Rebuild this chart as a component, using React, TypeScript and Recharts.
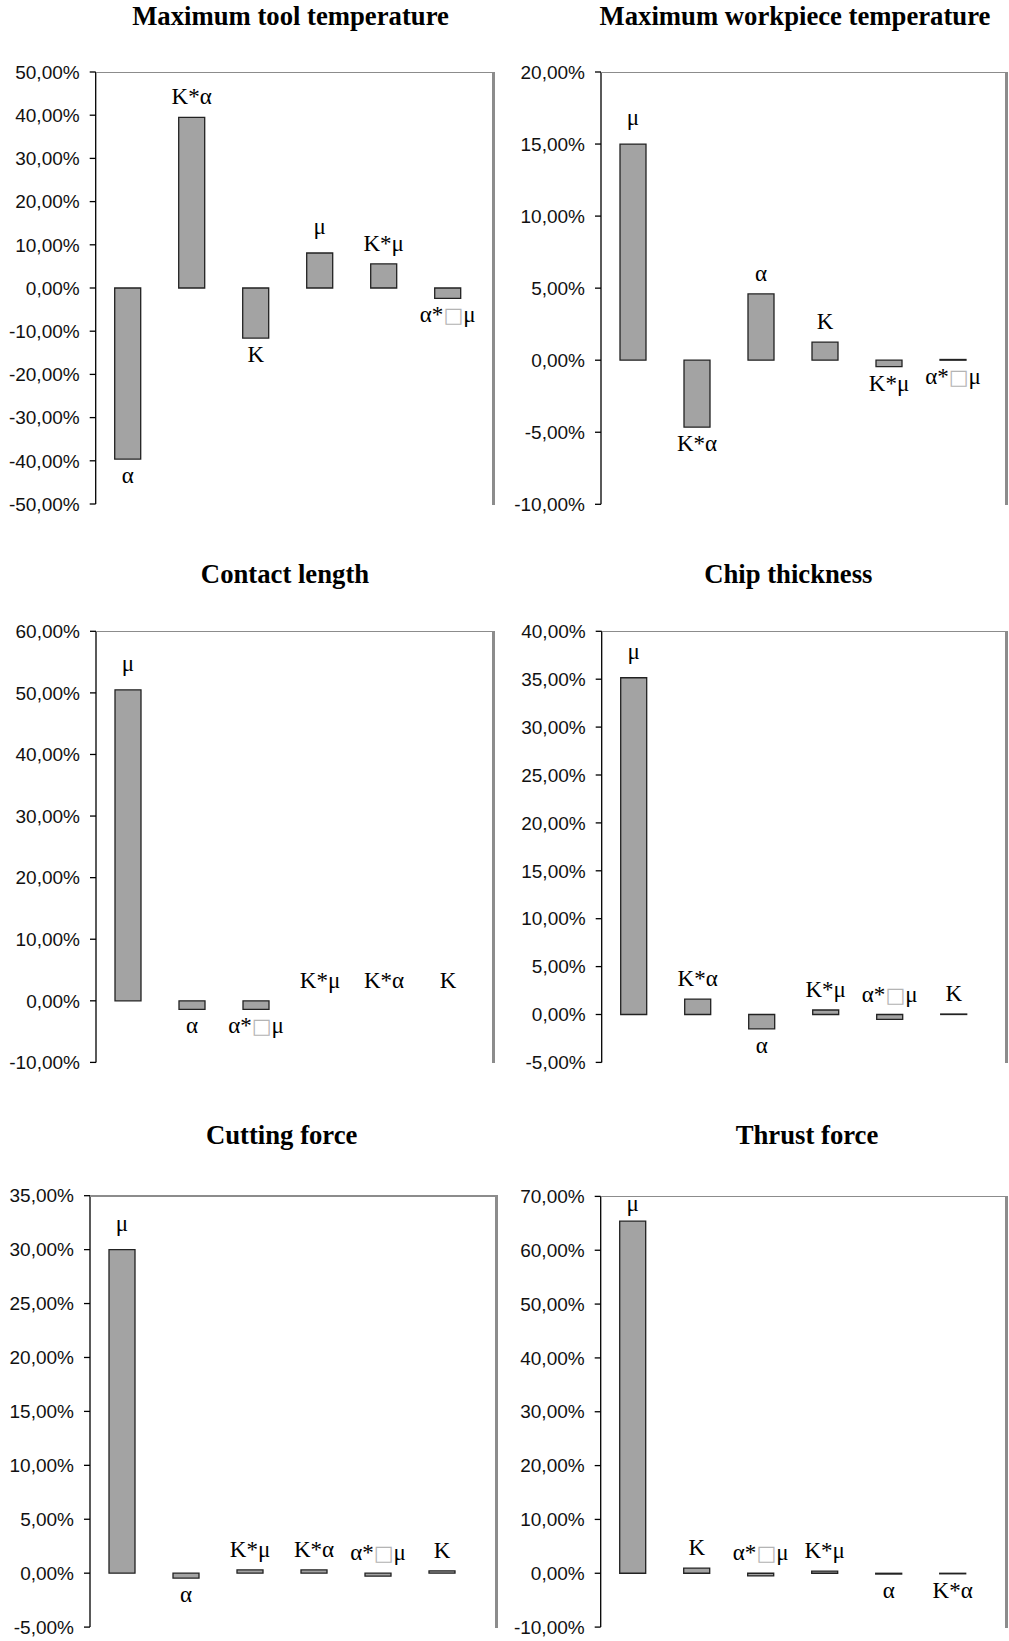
import React from "react";
import { Bar, ComposedChart, LabelList, Line, XAxis, YAxis } from "recharts";

// Maximum tool temperature
const toolTempCategories = ["α", "K*α", "K", "μ", "K*μ", "α*□μ"];
const toolTempValues = [-39.6, 39.5, -11.6, 8.1, 5.6, -2.4];
const toolTempTicks = [-50, -40, -30, -20, -10, 0, 10, 20, 30, 40, 50];

// Maximum workpiece temperature
const workTempCategories = ["μ", "K*α", "α", "K", "K*μ", "α*□μ"];
const workTempValues = [15.0, -4.65, 4.6, 1.25, -0.45, 0.05];
const workTempTicks = [-10, -5, 0, 5, 10, 15, 20];

// Contact length
const contactCategories = ["μ", "α", "α*□μ", "K*μ", "K*α", "K"];
const contactValues = [50.5, -1.4, -1.4, 0, 0, 0];
const contactTicks = [-10, 0, 10, 20, 30, 40, 50, 60];

// Chip thickness
const chipCategories = ["μ", "K*α", "α", "K*μ", "α*□μ", "K"];
const chipValues = [35.15, 1.6, -1.5, 0.47, -0.5, 0.05];
const chipTicks = [-5, 0, 5, 10, 15, 20, 25, 30, 35, 40];

// Cutting force
const cuttingCategories = ["μ", "α", "K*μ", "K*α", "α*□μ", "K"];
const cuttingValues = [30.0, -0.45, 0.3, 0.3, -0.28, 0.22];
const cuttingTicks = [-5, 0, 5, 10, 15, 20, 25, 30, 35];

// Thrust force
const thrustCategories = ["μ", "K", "α*□μ", "K*μ", "α", "K*α"];
const thrustValues = [65.4, 0.95, -0.5, 0.4, -0.15, -0.1];
const thrustTicks = [-10, 0, 10, 20, 30, 40, 50, 60, 70];

const BAND = 64;
const SERIF = "'Liberation Serif', 'Times New Roman', serif";
const SANS = "'Liberation Sans', Arial, sans-serif";

type Side = "above" | "below";

interface PanelDef {
  title: string;
  titleX: number;
  titleBaseline: number;
  categories: string[];
  values: number[];
  ticks: number[];
  sides: Side[];
  box: { x: number; y: number; w: number; h: number };
  plot: { axisX: number; top: number; bottom: number; right: number };
}

const panels: PanelDef[] = [
  {
    title: "Maximum tool temperature",
    titleX: 290.5,
    titleBaseline: 25,
    categories: toolTempCategories,
    values: toolTempValues,
    ticks: toolTempTicks,
    sides: ["below", "above", "below", "above", "above", "below"],
    box: { x: 0, y: 40, w: 505, h: 480 },
    plot: { axisX: 95.7, top: 72, bottom: 504, right: 493 },
  },
  {
    title: "Maximum workpiece temperature",
    titleX: 795,
    titleBaseline: 25,
    categories: workTempCategories,
    values: workTempValues,
    ticks: workTempTicks,
    sides: ["above", "below", "above", "above", "below", "below"],
    box: { x: 505, y: 40, w: 504, h: 480 },
    plot: { axisX: 601, top: 72, bottom: 504.3, right: 1006 },
  },
  {
    title: "Contact length",
    titleX: 285,
    titleBaseline: 583,
    categories: contactCategories,
    values: contactValues,
    ticks: contactTicks,
    sides: ["above", "below", "below", "above", "above", "above"],
    box: { x: 0, y: 600, w: 505, h: 480 },
    plot: { axisX: 96, top: 631.3, bottom: 1062.4, right: 493.3 },
  },
  {
    title: "Chip thickness",
    titleX: 788.3,
    titleBaseline: 583,
    categories: chipCategories,
    values: chipValues,
    ticks: chipTicks,
    sides: ["above", "above", "below", "above", "above", "above"],
    box: { x: 505, y: 600, w: 504, h: 480 },
    plot: { axisX: 601.7, top: 631.3, bottom: 1062.4, right: 1006 },
  },
  {
    title: "Cutting force",
    titleX: 281.7,
    titleBaseline: 1144,
    categories: cuttingCategories,
    values: cuttingValues,
    ticks: cuttingTicks,
    sides: ["above", "below", "above", "above", "above", "above"],
    box: { x: 0, y: 1165, w: 505, h: 476 },
    plot: { axisX: 90, top: 1195.7, bottom: 1627.1, right: 496.7 },
  },
  {
    title: "Thrust force",
    titleX: 807,
    titleBaseline: 1144,
    categories: thrustCategories,
    values: thrustValues,
    ticks: thrustTicks,
    sides: ["above", "above", "above", "above", "below", "below"],
    box: { x: 505, y: 1165, w: 504, h: 476 },
    plot: { axisX: 600.7, top: 1196.4, bottom: 1627.1, right: 1006 },
  },
];

function formatPct(v: number) {
  return `${v.toFixed(2).replace(".", ",")}%`;
}

function labelParts(name: string) {
  if (!name.includes("□")) return name;
  const [a, b] = name.split("□");
  return (
    <>
      {a}
      <tspan fill="#b4b4b4" fontFamily="'DejaVu Sans', sans-serif" fontSize={21}>
        □
      </tspan>
      {b}
    </>
  );
}

function Panel({ p }: { p: PanelDef }) {
  // anchor = the bar end next to which the category name sits
  const data = p.categories.map((name, i) => {
    const v = p.values[i];
    return {
      name,
      value: v,
      anchor: p.sides[i] === "below" ? Math.min(v, 0) : Math.max(v, 0),
    };
  });
  const { box, plot } = p;
  const margin = {
    top: plot.top - box.y,
    right: box.x + box.w - plot.right,
    bottom: box.y + box.h - plot.bottom,
    left: 0,
  };
  const padRight = plot.right - plot.axisX - BAND * data.length;

  const renderLabel = (props: any) => {
    const src = typeof props.x === "number" ? props : props.viewBox ?? props;
    const { x, y } = src;
    const name = String(props.value);
    const i = p.categories.indexOf(name);
    // the lone mu labels sit a little higher in the original (symbol font),
    // but tuck under the frame when the bar nearly reaches the top
    let gap = 13;
    if (name === "μ") gap = y - 30 > margin.top ? 19 : 10;
    const by = p.sides[i] === "below" ? y + 24 : y - gap;
    return (
      <text x={x} y={by} textAnchor="middle" fontSize={23} fontFamily={SERIF} fill="#000">
        {labelParts(name)}
      </text>
    );
  };

  return (
    <>
      <div
        style={{
          position: "absolute",
          left: p.titleX - 300,
          top: p.titleBaseline - 22.4,
          width: 600,
          textAlign: "center",
          fontFamily: SERIF,
          fontWeight: "bold",
          fontSize: 26.7,
          lineHeight: "26.7px",
          color: "#000",
        }}
      >
        {p.title}
      </div>
      <div style={{ position: "absolute", left: box.x, top: box.y }}>
        <ComposedChart width={box.w} height={box.h} data={data} margin={margin} barSize={26}>
          <XAxis
            dataKey="name"
            height={0}
            tick={false}
            tickLine={false}
            axisLine={{ stroke: "#8c8c8c", strokeWidth: 1.5 }}
            padding={{ left: 0, right: padRight }}
          />
          <YAxis
            type="number"
            domain={[p.ticks[0], p.ticks[p.ticks.length - 1]]}
            ticks={p.ticks}
            interval={0}
            width={plot.axisX - box.x}
            tickSize={6}
            tickMargin={10}
            tickLine={{ stroke: "#000", strokeWidth: 1.3 }}
            axisLine={{ stroke: "#000", strokeWidth: 1.3 }}
            tick={{ fontSize: 19, fill: "#111", fontFamily: SANS }}
            tickFormatter={formatPct}
          />
          <Bar
            dataKey="value"
            fill="#a3a3a3"
            stroke="#222"
            strokeWidth={1.3}
            isAnimationActive={false}
          />
          <Line
            dataKey="anchor"
            stroke="none"
            dot={false}
            activeDot={false}
            isAnimationActive={false}
          >
            <LabelList dataKey="name" content={renderLabel} />
          </Line>
        </ComposedChart>
      </div>
      {/* plot frame: top and right edges */}
      <div
        style={{
          position: "absolute",
          left: plot.axisX,
          top: plot.top - 0.5,
          width: plot.right - plot.axisX,
          height: 1.5,
          background: "#8c8c8c",
        }}
      />
      <div
        style={{
          position: "absolute",
          left: plot.right - 1.5,
          top: plot.top - 0.5,
          width: 3,
          height: plot.bottom - plot.top + 1,
          background: "#8c8c8c",
        }}
      />
    </>
  );
}

export default function App() {
  return (
    <div
      style={{
        position: "absolute",
        left: 0,
        top: 0,
        width: 1009,
        height: 1641,
        background: "#fff",
        overflow: "hidden",
      }}
    >
      {panels.map((p) => (
        <Panel key={p.title} p={p} />
      ))}
    </div>
  );
}
